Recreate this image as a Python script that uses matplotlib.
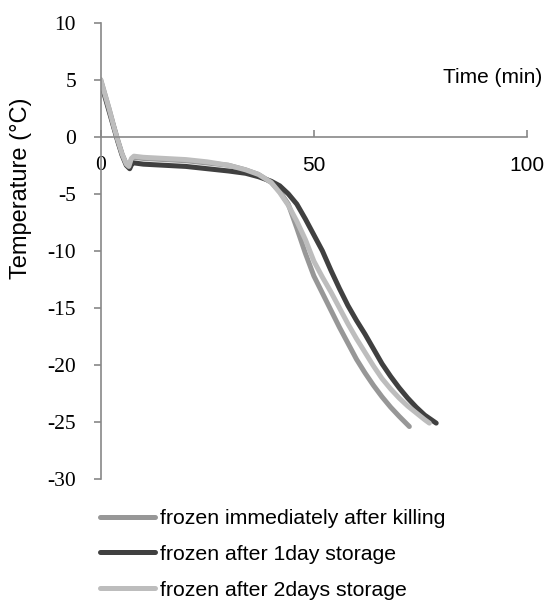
import matplotlib
matplotlib.use("Agg")
import matplotlib.pyplot as plt

plt.rcParams['font.family'] = ['Liberation Sans', 'DejaVu Sans']
plt.rcParams['axes.unicode_minus'] = False

# frozen immediately after killing
time_a = [0, 1, 2, 3, 4, 5, 6, 6.6, 7.2, 7.8, 10, 15, 20, 25, 30, 34, 37, 40, 42, 44,
          46, 48, 50, 52, 54, 56, 58, 60, 62, 64, 66, 68, 70, 72.4]
temp_a = [5.0, 3.7, 2.4, 1.0, -0.3, -1.5, -2.4, -2.6, -2.0, -1.8, -1.9, -2.0, -2.1, -2.3, -2.5, -2.9, -3.3, -4.0, -4.8, -5.9,
          -8.0, -10.2, -12.2, -13.7, -15.2, -16.7, -18.1, -19.5, -20.7, -21.8, -22.8, -23.7, -24.5, -25.4]

# frozen after 1day storage
time_b = [0, 1, 2, 3, 4, 5, 6, 6.8, 7.4, 8, 10, 15, 20, 25, 30, 34, 37, 40, 42, 44,
          46, 48, 50, 52, 54, 56, 58, 60, 62, 64, 66, 68, 70, 72, 74, 76, 78.7]
temp_b = [4.8, 3.5, 2.2, 0.9, -0.4, -1.6, -2.5, -2.8, -2.3, -2.3, -2.4, -2.5, -2.6, -2.8, -3.0, -3.2, -3.5, -3.9, -4.3, -5.0,
          -5.9, -7.2, -8.6, -10.0, -11.7, -13.3, -14.8, -16.1, -17.3, -18.6, -19.9, -21.0, -22.0, -22.9, -23.7, -24.4, -25.1]

# frozen after 2days storage
time_c = [0, 1, 2, 3, 4, 5, 6, 6.6, 7.2, 7.8, 10, 15, 20, 25, 30, 34, 37, 40, 42, 44,
          46, 48, 50, 52, 54, 56, 58, 60, 62, 64, 66, 68, 70, 72, 74, 76, 77.1]
temp_c = [5.0, 3.7, 2.4, 1.0, -0.3, -1.5, -2.4, -2.6, -1.9, -1.7, -1.8, -1.9, -2.0, -2.2, -2.5, -2.9, -3.3, -4.0, -4.9, -6.0,
          -7.4, -9.0, -10.9, -12.3, -13.6, -15.0, -16.4, -17.7, -18.9, -20.1, -21.2, -22.1, -22.9, -23.6, -24.2, -24.8, -25.1]

labels = ['frozen immediately after killing', 'frozen after 1day storage', 'frozen after 2days storage']
colors = ['#979797', '#404040', '#bdbdbd']

x_ticks = [0, 50, 100]
y_ticks = [10, 5, 0, -5, -10, -15, -20, -25, -30]

fig = plt.figure(figsize=(5.49, 6.01), dpi=100)
ax = fig.add_axes([100.7 / 549, 1 - 479 / 601, 426.3 / 549, 456.3 / 601])

for t, v, c, lab in zip([time_a, time_b, time_c], [temp_a, temp_b, temp_c], colors, labels):
    ax.plot(t, v, color=c, lw=3.6, label=lab, solid_capstyle='round', solid_joinstyle='round')

ax.set_xlim(0, 100)
ax.set_ylim(-30, 10)

axis_col = '#878787'
ax.spines['top'].set_visible(False)
ax.spines['right'].set_visible(False)
ax.spines['bottom'].set_position(('data', 0))
ax.spines['bottom'].set_color(axis_col)
ax.spines['left'].set_color(axis_col)
ax.spines['bottom'].set_linewidth(1.2)
ax.spines['left'].set_linewidth(1.2)

ax.set_yticks(y_ticks)
ax.set_yticklabels([str(v) for v in y_ticks], family='Liberation Serif', fontsize=15.5)
ax.tick_params(axis='y', direction='out', length=4.8, width=1.2, color=axis_col, pad=13)

ax.set_xticks(x_ticks)
ax.set_xticklabels([str(v) for v in x_ticks], fontsize=15)
ax.get_xticklabels()[0].set_fontfamily('Liberation Serif')
ax.get_xticklabels()[0].set_fontsize(15.5)
ax.tick_params(axis='x', direction='in', length=4.8, width=1.2, color=axis_col, pad=13.7)

ax.text(80.2, 5.2, 'Time (min)', fontsize=15, ha='left', va='center', clip_on=False)
fig.text(21 / 549, 1 - 188 / 601, 'Temperature (°C)', rotation=90, fontsize=17,
         ha='center', va='center')

ax.legend(loc='upper left', bbox_to_anchor=(100 / 549, 1 - 509 / 601), bbox_transform=fig.transFigure,
          frameon=False, fontsize=15.3, handlelength=2.6, handletextpad=0.24, labelspacing=0.79,
          borderpad=0, borderaxespad=0)

fig.savefig('out.png', dpi=100)
